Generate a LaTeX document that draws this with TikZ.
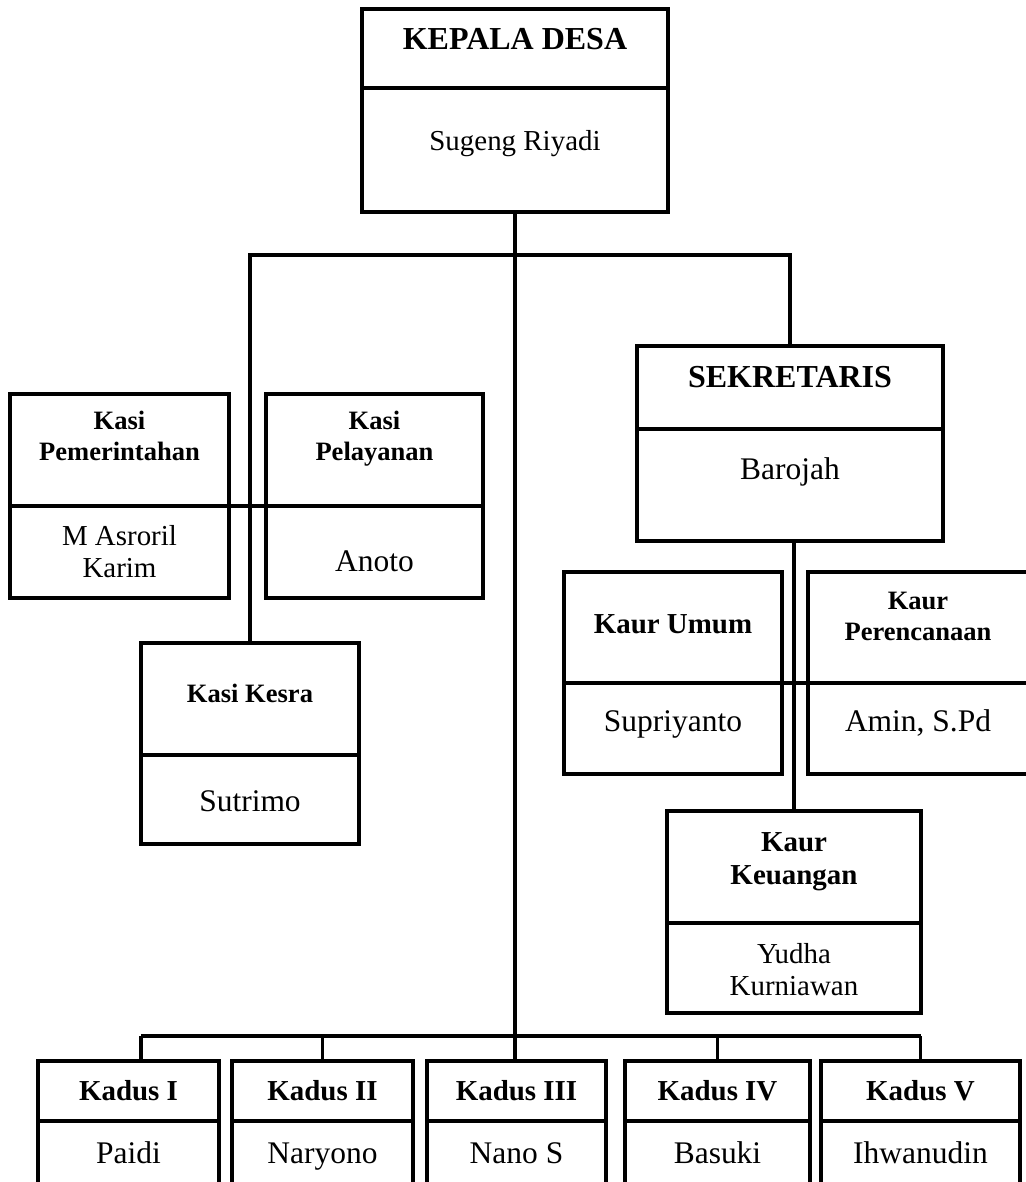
\documentclass[tikz,border=0pt]{standalone}
\usepackage{fontspec}
\setmainfont{Liberation Serif}
\usetikzlibrary{positioning}

\begin{document}
\begin{tikzpicture}[
  x=0.75pt,y=-0.75pt,
  node distance=0pt,
  part/.style={draw,line width=2.5pt,outer sep=0pt,inner sep=0pt,align=center,anchor=north west,text depth=0pt},
  headbig/.style={part,font=\fontsize{24}{28}\selectfont\bfseries,text height=16pt},
  headmid/.style={part,font=\fontsize{21.7}{24.5}\selectfont\bfseries,text height=14.4pt},
  headsmall/.style={part,font=\fontsize{19.9}{23.3}\selectfont\bfseries,text height=13.2pt},
  namebig/.style={part,font=\fontsize{23.6}{27}\selectfont,text height=15.6pt},
  namemid/.style={part,font=\fontsize{21.7}{24.5}\selectfont,text height=14.4pt},
  link/.style={line width=2.5pt}
]
\useasboundingbox (0,0) rectangle (1025,1182);

% kepala desa
\node[headbig,minimum width=229.5pt,minimum height=59.25pt,text depth=14.2pt] (kadesT) at (362,9) {KEPALA DESA};
\node[namemid,minimum width=229.5pt,minimum height=93pt,below=of kadesT,text depth=14.2pt] (kadesN) {Sugeng Riyadi};

% sekretaris
\node[headbig,minimum width=229.5pt,minimum height=62.25pt,text depth=16.2pt] (sekreT) at (637,346) {SEKRETARIS};
\node[namebig,minimum width=229.5pt,minimum height=84pt,below=of sekreT,text depth=24pt] (sekreN) {Barojah};

% kasi
\node[headsmall,minimum width=164.25pt,minimum height=84pt,text height=36.5pt,text depth=20.2pt] (pemT) at (10,394) {Kasi\\Pemerintahan};
\node[namemid,minimum width=164.25pt,minimum height=69pt,below=of pemT,text height=38.9pt] (pemN) {M Asroril\\Karim};
\node[headsmall,minimum width=162.75pt,minimum height=84pt,text height=36.5pt,text depth=20.2pt] (pelT) at (266,394) {Kasi\\Pelayanan};
\node[namebig,minimum width=162.75pt,minimum height=69pt,below=of pelT,text height=28.8pt] (pelN) {Anoto};
\node[headsmall,minimum width=163.5pt,minimum height=84pt,text depth=8.6pt] (kesraT) at (141,643) {Kasi Kesra};
\node[namebig,minimum width=163.5pt,minimum height=66.75pt,below=of kesraT,text height=17.6pt] (kesraN) {Sutrimo};

% kaur
\node[headmid,minimum width=163.5pt,minimum height=83.25pt,text depth=5.6pt] (umT) at (564,572) {Kaur Umum};
\node[namebig,minimum width=163.5pt,minimum height=68.25pt,below=of umT,text depth=11.6pt] (umN) {Supriyanto};
\node[headsmall,minimum width=165pt,minimum height=83.25pt,text height=36.5pt,text depth=16.6pt] (renT) at (808,572) {Kaur\\Perencanaan};
\node[namebig,minimum width=165pt,minimum height=68.25pt,below=of renT,text depth=11.6pt] (renN) {Amin, S.Pd};
\node[headmid,minimum width=190.5pt,minimum height=84pt,text height=38.9pt,text depth=13.2pt] (keuT) at (667,811) {Kaur\\Keuangan};
\node[namemid,minimum width=190.5pt,minimum height=67.5pt,below=of keuT,text height=41.9pt] (keuN) {Yudha\\Kurniawan};

% kadus
\node[headmid,minimum width=135.75pt,minimum height=45pt] (kadus1T) at (38,1061) {Kadus I};
\node[namebig,minimum width=135.75pt,minimum height=51.75pt,below=of kadus1T,text depth=4pt] (kadus1N) {Paidi};
\node[headmid,minimum width=135.75pt,minimum height=45pt] (kadus2T) at (232,1061) {Kadus II};
\node[namebig,minimum width=135.75pt,minimum height=51.75pt,below=of kadus2T,text depth=4pt] (kadus2N) {Naryono};
\node[headmid,minimum width=134.25pt,minimum height=45pt] (kadus3T) at (427,1061) {Kadus III};
\node[namebig,minimum width=134.25pt,minimum height=51.75pt,below=of kadus3T,text depth=4pt] (kadus3N) {Nano S};
\node[headmid,minimum width=138.75pt,minimum height=45pt] (kadus4T) at (625,1061) {Kadus IV};
\node[namebig,minimum width=138.75pt,minimum height=51.75pt,below=of kadus4T,text depth=4pt] (kadus4N) {Basuki};
\node[headmid,minimum width=149.25pt,minimum height=45pt] (kadus5T) at (821,1061) {Kadus V};
\node[namebig,minimum width=149.25pt,minimum height=51.75pt,below=of kadus5T,text depth=4pt] (kadus5N) {Ihwanudin};

% garis
\coordinate (topbus) at (516,255);
\coordinate (busA) at (141,1036);
\coordinate (busE) at (921,1036);
\draw[link] (kesraT.north) |- (topbus) -| (sekreT.north);
\draw[link] (kadesN.south) -- (kadesN.south |- kadus3T.north);
\draw[link] (pemT.south east) -- (pelT.south west);
\draw[link] (umT.south east) -- (renT.south west);
\draw[link] (keuT.north) -- (keuT.north |- sekreN.south);
\draw[link] (busA) -- (busE);
\draw[link] (busA) -- (busA |- kadus1T.north);
\draw[link] (kadus2T.north |- busA) -- (kadus2T.north);
\draw[link] (kadus4T.north |- busA) -- (kadus4T.north);
\draw[link] (kadus5T.north |- busA) -- (kadus5T.north);
\end{tikzpicture}
\end{document}
